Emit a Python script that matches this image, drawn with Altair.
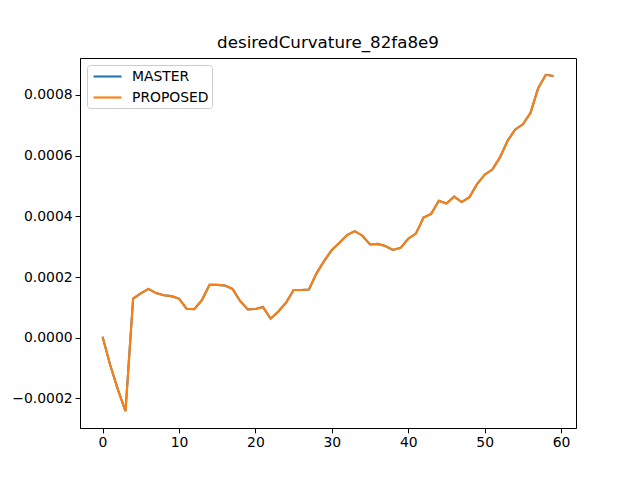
import altair as alt
import pandas as pd

x = list(range(60))
master = [0.000003, -0.00009, -0.00017, -0.000242, 0.000129, 0.000146, 0.000161, 0.000147,
          0.000140, 0.000137, 0.000129, 0.0000955, 0.0000944, 0.000124, 0.000174, 0.000174,
          0.000172, 0.000161, 0.000121, 0.0000933, 0.0000944, 0.000101, 0.0000626, 0.0000866,
          0.000115, 0.000157, 0.000157, 0.000159, 0.000212, 0.000253, 0.000289, 0.000313,
          0.000338, 0.000351, 0.000336, 0.000307, 0.000309, 0.000302, 0.000289, 0.000296,
          0.000326, 0.000343, 0.000396, 0.000408, 0.000451, 0.000442, 0.000465, 0.000447,
          0.000463, 0.000506, 0.000537, 0.000554, 0.000594, 0.000649, 0.000686, 0.000703,
          0.000741, 0.000822, 0.000866, 0.000862]
proposed = list(master)

y_ticks = [-0.0002, 0.0, 0.0002, 0.0004, 0.0006, 0.0008]
x_ticks = [0, 10, 20, 30, 40, 50, 60]
title = "desiredCurvature_82fa8e9"

df = pd.DataFrame({"x": x, "MASTER": master, "PROPOSED": proposed})

lo = min(min(master), min(proposed))
hi = max(max(master), max(proposed))
m = (hi - lo) * 0.05
xm = (max(x) - min(x)) * 0.05

FONT = "DejaVu Sans"

xenc = alt.X("x:Q", scale=alt.Scale(domain=[min(x) - xm, max(x) + xm], nice=False, zero=False),
             axis=alt.Axis(values=x_ticks, title=None, grid=False, format="d"))
yenc = alt.Y("value:Q", scale=alt.Scale(domain=[lo - m, hi + m], nice=False, zero=False),
             axis=alt.Axis(values=y_ticks, title=None, grid=False, format=".4f"))
cenc = alt.Color("series:N",
                 scale=alt.Scale(domain=["MASTER", "PROPOSED"], range=["#1f77b4", "#ff7f0e"]),
                 legend=alt.Legend(title=None))

base = alt.Chart(df).transform_fold(["MASTER", "PROPOSED"], as_=["series", "value"])
l1 = base.transform_filter(alt.datum.series == "MASTER").mark_line(strokeWidth=2.1).encode(
    x=xenc, y=yenc, color=cenc)
l2 = base.transform_filter(alt.datum.series == "PROPOSED").mark_line(strokeWidth=2.1).encode(
    x=xenc, y=yenc, color=cenc)

chart = alt.layer(l1, l2).properties(
    width=496, height=370,
    title=alt.TitleParams(title, fontSize=16.7, font=FONT, fontWeight="normal",
                          anchor="middle", offset=6, color="black"),
    padding={"left": 72, "top": 50, "right": 50, "bottom": 40},
    autosize=alt.AutoSizeParams(type="none"),
).configure_view(
    stroke="black", strokeWidth=1
).configure_axis(
    labelFont=FONT, labelFontSize=13.9, labelColor="black",
    domainColor="black", tickColor="black", tickSize=4.9, labelPadding=3,
    domainWidth=1, tickWidth=1,
).configure_legend(
    orient="top-left", offset=7, padding=3, strokeColor="#cccccc", fillColor="white",
    cornerRadius=3, labelFont=FONT, labelFontSize=13.9, labelColor="black",
    symbolType="M-2,0H2", symbolSize=196, symbolStrokeWidth=2.1, rowPadding=5,
    symbolOffset=9, labelOffset=16,
)

chart.save("out.html", embed_options={"renderer": "svg", "actions": False})
